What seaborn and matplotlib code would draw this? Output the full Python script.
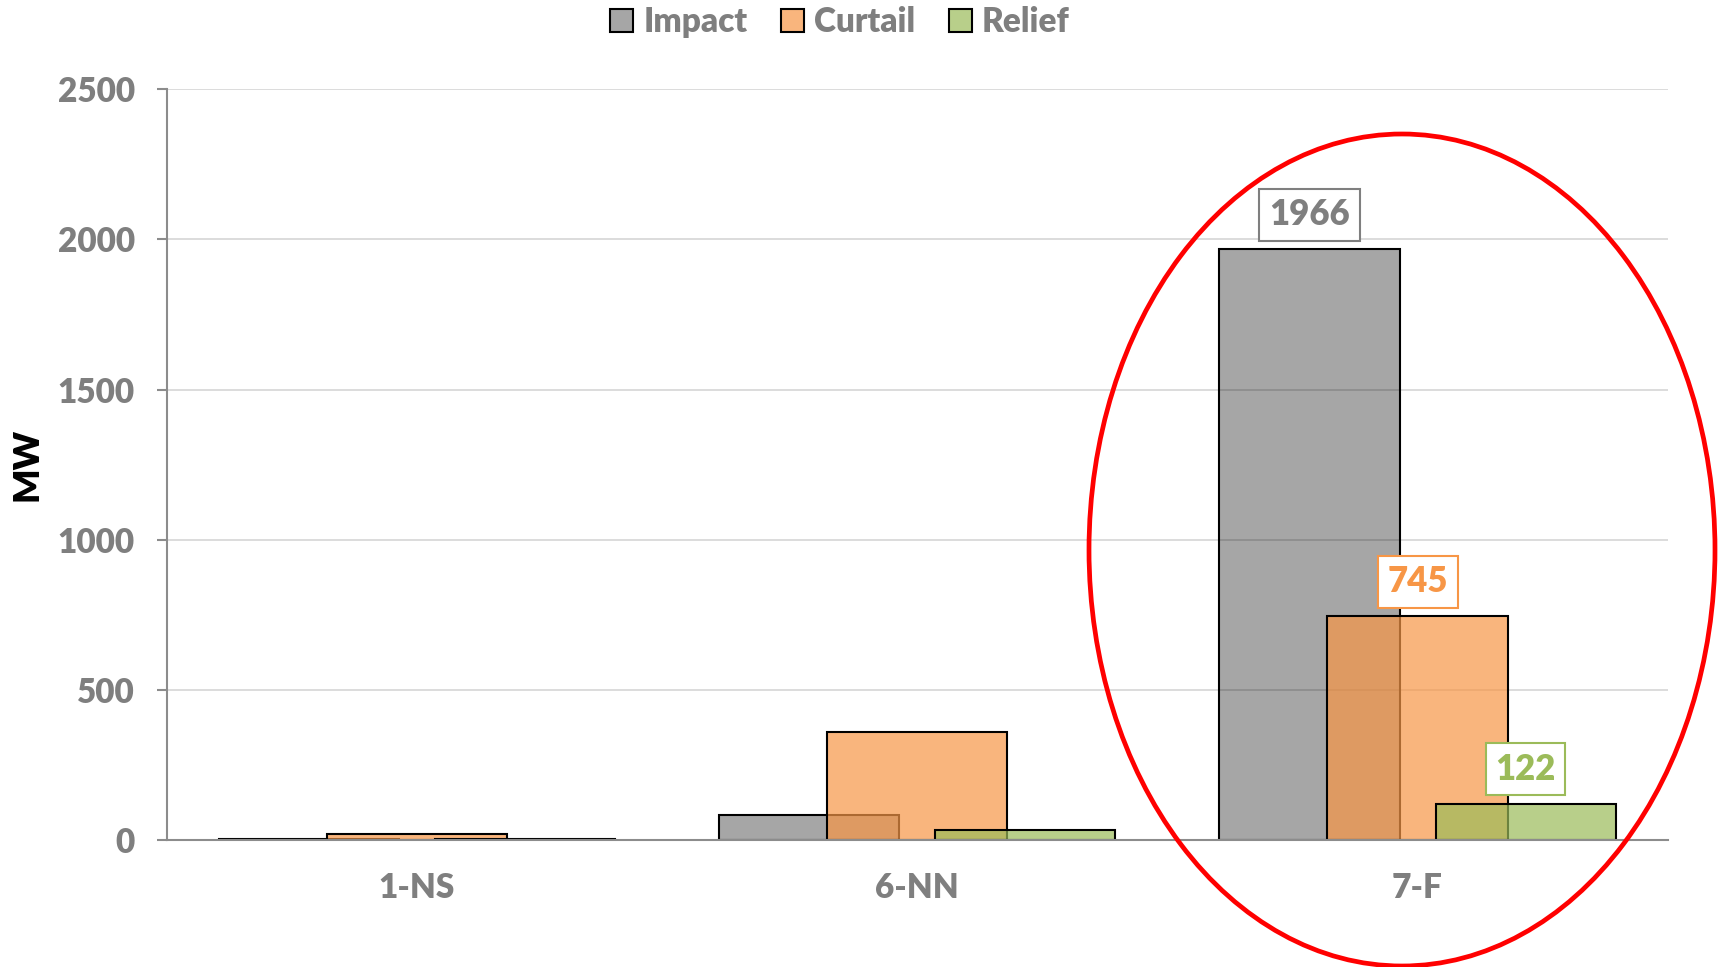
import pandas as pd
import matplotlib.pyplot as plt
import seaborn as sns
from matplotlib.colors import to_rgba
from matplotlib.patches import Ellipse, Patch

# chart values
scenarios = ["1-NS", "6-NN", "7-F"]
series = ["Impact", "Curtail", "Relief"]
impact = [5, 85, 1966]
curtail = [22, 362, 745]
relief = [5, 36, 122]
labelled = "7-F"

fill_colors = {
    "Impact": to_rgba("black", 0.35),
    "Curtail": to_rgba("#F79646", 0.7),
    "Relief": to_rgba("#9BBB59", 0.7),
}
text_colors = {"Impact": "#7F7F7F", "Curtail": "#F79646", "Relief": "#9BBB59"}

df = pd.DataFrame({"Scenario": scenarios, "Impact": impact,
                   "Curtail": curtail, "Relief": relief})
long_df = df.melt(id_vars="Scenario", var_name="Series", value_name="MW")

sns.set_style("white")
plt.rcParams['font.family'] = ['Lato', 'DejaVu Sans']
plt.rcParams['font.weight'] = 'heavy'

fig = plt.figure(figsize=(17.21, 9.67), dpi=100)
ax = fig.add_axes([0.097, 0.131, 0.872, 0.777])

# overlapping bars: slots of 0.216, each bar 0.36 wide
sns.barplot(data=long_df, x="Scenario", y="MW", hue="Series", order=scenarios,
            hue_order=series, width=0.648, gap=-0.667, errorbar=None,
            edgecolor="black", linewidth=1.5, legend=False, ax=ax)

for cont, name in zip(ax.containers, series):
    for bar in cont:
        bar.set_facecolor(fill_colors[name])
        bar.set_edgecolor("black")

ax.set_xlim(-0.5, 2.5)
ax.set_ylim(0, 2500)
ax.set_yticks([0, 500, 1000, 1500, 2000, 2500])
ax.set_axisbelow(True)
ax.grid(axis="y", color="#D9D9D9", linewidth=1.3)
ax.grid(axis="x", visible=False)

for side in ["top", "right"]:
    ax.spines[side].set_visible(False)
for side in ["left", "bottom"]:
    ax.spines[side].set_color("#8C8C8C")
    ax.spines[side].set_linewidth(1.5)

ax.set_xticks([-0.5, 0.5, 1.5, 2.5], minor=True)
ax.tick_params(axis="x", which="major", length=0, pad=23, labelsize=24,
               labelcolor="#7F7F7F")
ax.tick_params(axis="x", which="minor", length=8, width=1.5, color="#8C8C8C",
               direction="out")
ax.tick_params(axis="y", length=7, width=1.5, color="#8C8C8C", pad=16,
               labelsize=24, labelcolor="#7F7F7F", left=True)
for lab in ax.get_xticklabels() + ax.get_yticklabels():
    lab.set_fontweight("heavy")

ax.set_xlabel("")
ax.set_ylabel("MW", fontsize=26, fontweight="heavy", color="black")
ax.yaxis.set_label_coords(-0.082, 0.5)

# value labels on the highlighted group
idx = scenarios.index(labelled)
for cont, name in zip(ax.containers, series):
    bar = cont[idx]
    ax.annotate(f"{bar.get_height():.0f}",
                xy=(bar.get_x() + bar.get_width() / 2, bar.get_height()),
                xytext=(0, 13), textcoords="offset points",
                ha="center", va="bottom", fontsize=25, fontweight="heavy",
                color=text_colors[name],
                bbox=dict(boxstyle="square,pad=0.28", facecolor="white",
                          edgecolor=text_colors[name], linewidth=1.5))

handles = [Patch(facecolor=fill_colors[s], edgecolor="black", linewidth=1.5)
           for s in series]
fig.legend(handles, series, loc="center", bbox_to_anchor=(0.488, 0.977),
           ncol=3, frameon=False, handlelength=0.7,
           handleheight=0.7, handletextpad=0.3, columnspacing=1.0,
           labelcolor="#7F7F7F", prop={"weight": "heavy", "size": 24})

# red ring around the last group
fig.patches.append(Ellipse((1402 / 1721, 1 - 550 / 967), 626 / 1721, 832 / 967,
                           transform=fig.transFigure, fill=False,
                           edgecolor="#FF0000", linewidth=3.4, clip_on=False))

fig.savefig("out.png", dpi=100)
